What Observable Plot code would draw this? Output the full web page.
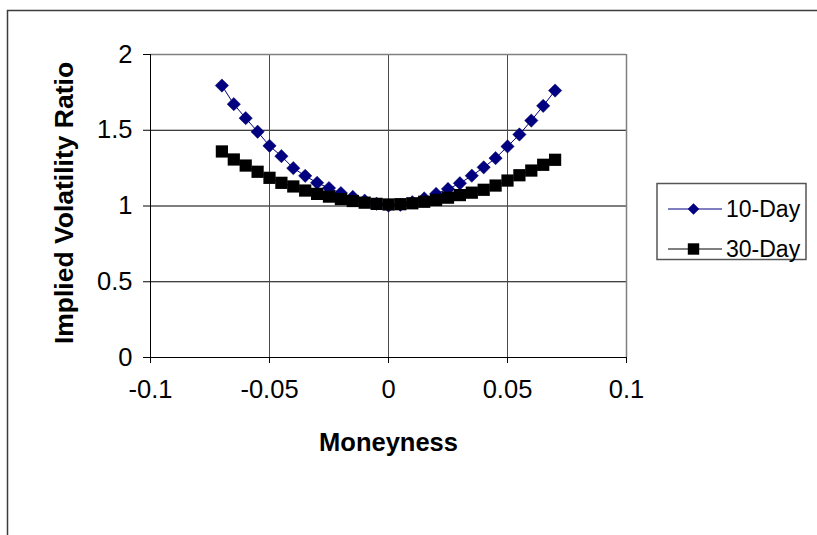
<!DOCTYPE html>
<html>
<head>
<meta charset="utf-8">
<script src="https://cdn.jsdelivr.net/npm/d3@7"></script>
<script src="https://cdn.jsdelivr.net/npm/@observablehq/plot@0.6"></script>
<style>
  html, body { margin: 0; padding: 0; background: #fff; }
  #chart { position: relative; width: 817px; height: 535px; }
</style>
</head>
<body>
<div id="chart"></div>
<script>
// Moneyness grid shared by both series
const moneyness = [
  -0.070, -0.065, -0.060, -0.055, -0.050, -0.045, -0.040, -0.035, -0.030, -0.025,
  -0.020, -0.015, -0.010, -0.005, 0.000, 0.005, 0.010, 0.015, 0.020, 0.025,
  0.030, 0.035, 0.040, 0.045, 0.050, 0.055, 0.060, 0.065, 0.070
];

// Implied volatility ratio, 10-day options
const tenDay = [
  1.795, 1.672, 1.580, 1.490, 1.397, 1.329, 1.250, 1.199, 1.153, 1.118,
  1.085, 1.060, 1.035, 1.015, 1.003, 1.008, 1.025, 1.050, 1.080, 1.112,
  1.150, 1.200, 1.255, 1.316, 1.393, 1.472, 1.564, 1.661, 1.762
];

// Implied volatility ratio, 30-day options
const thirtyDay = [
  1.360, 1.307, 1.267, 1.226, 1.186, 1.153, 1.129, 1.102, 1.080, 1.062,
  1.046, 1.033, 1.022, 1.014, 1.010, 1.012, 1.018, 1.028, 1.040, 1.055,
  1.072, 1.088, 1.107, 1.135, 1.168, 1.203, 1.234, 1.272, 1.305
];

const seriesNames = ["10-Day", "30-Day"];
const xTicks = [-0.1, -0.05, 0, 0.05, 0.1];
const yTicks = [0, 0.5, 1, 1.5, 2];
const xTitle = "Moneyness";
const yTitle = "Implied Volatility Ratio";

const rows10 = moneyness.map((m, i) => ({m, v: tenDay[i]}));
const rows30 = moneyness.map((m, i) => ({m, v: thirtyDay[i]}));

const navy = "#000080";
const font = "'Liberation Sans', Arial, sans-serif";

const plot = Plot.plot({
  width: 817,
  height: 535,
  marginLeft: 150,
  marginRight: 191,
  marginTop: 54,
  marginBottom: 178,
  style: {fontFamily: font, fontSize: "25px", color: "#000", background: "#fff"},
  x: {domain: [-0.1, 0.1]},
  y: {domain: [0, 2]},
  marks: [
    // gridlines
    Plot.ruleY(yTicks.filter(d => d > 0 && d < 2), {stroke: "#000", strokeWidth: 1}),
    Plot.ruleX(xTicks.filter(d => d > -0.1 && d < 0.1), {stroke: "#4a4a4a", strokeWidth: 1}),
    // plot-area border (top/right) and axis lines (left/bottom)
    Plot.ruleY([2], {stroke: "#808080", strokeWidth: 1.5}),
    Plot.ruleX([0.1], {stroke: "#808080", strokeWidth: 1.5}),
    Plot.ruleX([-0.1], {stroke: "#000"}),
    Plot.ruleY([0], {stroke: "#000"}),
    // axes
    Plot.axisX({
      ticks: xTicks, tickFormat: d => String(d), tickSize: 6, tickPadding: 16,
      label: null, fontSize: 25.5
    }),
    Plot.axisY({
      ticks: yTicks, tickFormat: d => String(d), tickSize: 7, tickPadding: 11,
      label: null, fontSize: 25.5
    }),
    // axis titles
    Plot.text([xTitle], {
      frameAnchor: "bottom", dy: 93, text: d => d, fontWeight: "bold",
      fontSize: 25.5, lineAnchor: "bottom"
    }),
    Plot.text([yTitle], {
      frameAnchor: "left", dx: -86, dy: -3, rotate: -90, text: d => d,
      fontWeight: "bold", fontSize: 26.5, textAnchor: "middle"
    }),
    // 10-Day series
    Plot.line(rows10, {x: "m", y: "v", stroke: navy, strokeWidth: 1}),
    Plot.dot(rows10, {x: "m", y: "v", symbol: "diamond2", r: 6, fill: navy, stroke: "#00005a", strokeWidth: 0.5}),
    // 30-Day series
    Plot.line(rows30, {x: "m", y: "v", stroke: "#000", strokeWidth: 1}),
    Plot.dot(rows30, {x: "m", y: "v", symbol: "square", r: 6.9, fill: "#000", stroke: "none"})
  ]
});

document.getElementById("chart").appendChild(plot);

// Outer chart-area border and legend box
const svg = d3.select(plot);
svg.append("path")
  .attr("d", "M7.5,535 V10.5 H817")
  .attr("fill", "none")
  .attr("stroke", "#3c3c3c")
  .attr("stroke-width", 1.5);

const legend = svg.append("g")
  .style("font-family", font)
  .style("font-size", "23px")
  .attr("text-anchor", "start");
legend.append("rect")
  .attr("x", 657).attr("y", 183.5).attr("width", 149).attr("height", 76)
  .attr("fill", "#fff").attr("stroke", "#555").attr("stroke-width", 1.5);

const legendItems = [
  {name: seriesNames[0], color: navy, symbol: d3.symbolDiamond2, size: 85, cy: 209},
  {name: seriesNames[1], color: "#000", symbol: d3.symbolSquare, size: 130, cy: 249}
];
for (const it of legendItems) {
  legend.append("line")
    .attr("x1", 668).attr("x2", 722).attr("y1", it.cy).attr("y2", it.cy)
    .attr("stroke", it.color).attr("stroke-width", 1);
  legend.append("path")
    .attr("d", d3.symbol(it.symbol, it.size)())
    .attr("transform", `translate(693.5,${it.cy})`)
    .attr("fill", it.color);
  legend.append("text")
    .attr("x", 726).attr("y", it.cy).attr("dy", "0.36em")
    .attr("fill", "#000").text(it.name);
}
</script>
</body>
</html>
